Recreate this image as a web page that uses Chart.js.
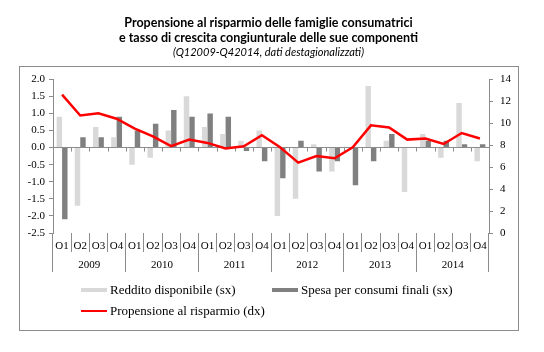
<!DOCTYPE html>
<html>
<head>
<meta charset="utf-8">
<script src="https://cdn.jsdelivr.net/npm/chart.js@4/dist/chart.umd.min.js"></script>
<style>
  html, body { margin: 0; padding: 0; background: #fff; }
  #wrap { position: relative; width: 544px; height: 352px; }
  #frame { position: absolute; left: 19px; top: 66px; width: 500px; height: 265px; border: 1px solid #8c8c8c; box-sizing: border-box; }
  #chart { position: absolute; left: 0; top: 0; }
  .lg { position: absolute; height: 16px; display: flex; align-items: center; font: 13px "Liberation Serif", serif; color: #000; white-space: nowrap; }
  .lg span.sw { display: inline-block; width: 26px; margin-right: 3px; }
</style>
</head>
<body>
<div id="wrap">
  <div id="frame"></div>
  <canvas id="chart" width="544" height="352"></canvas>
  <div id="legend"></div>
</div>
<script>
'use strict';

const quarters = ['Q1', 'Q2', 'Q3', 'Q4', 'Q1', 'Q2', 'Q3', 'Q4', 'Q1', 'Q2', 'Q3', 'Q4',
                  'Q1', 'Q2', 'Q3', 'Q4', 'Q1', 'Q2', 'Q3', 'Q4', 'Q1', 'Q2', 'Q3', 'Q4'];
const years = ['2009', '2010', '2011', '2012', '2013', '2014'];

// variazioni congiunturali % (asse sx)
const reddito = [0.9, -1.7, 0.6, 0.3, -0.5, -0.3, 0.5, 1.5, 0.6, 0.4, 0.2, 0.5,
                 -2.0, -1.5, 0.1, -0.7, 0.0, 1.8, 0.2, -1.3, 0.4, -0.3, 1.3, -0.4];
const spesa = [-2.1, 0.3, 0.3, 0.9, 0.5, 0.7, 1.1, 0.9, 1.0, 0.9, -0.1, -0.4,
               -0.9, 0.2, -0.7, -0.4, -1.1, -0.4, 0.4, 0.0, 0.2, 0.2, 0.1, 0.1];
// propensione al risparmio % (asse dx)
const propensione = [12.6, 10.7, 10.9, 10.4, 9.5, 8.8, 7.9, 8.5, 8.2, 7.7, 7.9, 8.9,
                     7.8, 6.4, 7.0, 6.8, 7.8, 9.8, 9.6, 8.5, 8.6, 8.1, 9.1, 8.6];

const AXIS = '#8c8c8c';
const serif = '"Liberation Serif", "Times New Roman", serif';

// small tick marks on the zero line, at each category boundary
const zeroTicks = {
  id: 'zeroTicks',
  beforeDatasetsDraw(chart) {
    const xs = chart.scales.x;
    const y0 = chart.scales.y.getPixelForValue(0);
    const n = quarters.length;
    const step = xs.width / n;
    const ctx = chart.ctx;
    ctx.save();
    ctx.strokeStyle = AXIS;
    ctx.lineWidth = 1;
    ctx.beginPath();
    for (let i = 0; i <= n; i++) {
      const x = Math.round(xs.left + i * step) + 0.5;
      ctx.moveTo(x, y0);
      ctx.lineTo(x, y0 + 4);
    }
    ctx.stroke();
    ctx.restore();
  }
};

const chart = new Chart(document.getElementById('chart'), {
  data: {
    labels: quarters,
    datasets: [
      {
        type: 'line',
        label: 'Propensione al risparmio (dx)',
        data: propensione,
        yAxisID: 'y1',
        borderColor: '#ff0000',
        backgroundColor: '#ff0000',
        borderWidth: 2.5,
        pointRadius: 0,
        tension: 0,
        order: 0,
      },
      {
        type: 'bar',
        label: 'Reddito disponibile (sx)',
        data: reddito,
        yAxisID: 'y',
        backgroundColor: '#d9d9d9',
        categoryPercentage: 0.6,
        barPercentage: 1.0,
        order: 1,
      },
      {
        type: 'bar',
        label: 'Spesa per consumi finali (sx)',
        data: spesa,
        yAxisID: 'y',
        backgroundColor: '#808080',
        categoryPercentage: 0.6,
        barPercentage: 1.0,
        order: 1,
      },
    ],
  },
  options: {
    responsive: false,
    animation: false,
    devicePixelRatio: 1,
    layout: { padding: { left: 19, right: 26, top: 0, bottom: 79 } },
    plugins: {
      legend: { display: false },
      tooltip: { enabled: false },
      title: {
        display: true,
        text: ['Propensione al risparmio delle famiglie consumatrici',
               'e tasso di crescita congiunturale delle sue componenti'],
        color: '#000',
        font: { family: 'Lato, "Open Sans", sans-serif', size: 12.5, weight: 'bold', lineHeight: 1.2 },
        padding: { top: 15, bottom: 0 },
      },
      subtitle: {
        display: true,
        text: '(Q12009-Q42014, dati destagionalizzati)',
        color: '#000',
        font: { family: 'Lato, "Open Sans", sans-serif', size: 11, style: 'italic', lineHeight: 1.2 },
        padding: { top: 1, bottom: 20 },
      },
    },
    scales: {
      x: {
        type: 'category',
        offset: true,
        border: { display: false },
        grid: { offset: true, drawOnChartArea: false, drawTicks: true, tickLength: 19, color: AXIS },
        ticks: { color: '#000', font: { family: serif, size: 11 }, padding: -12, maxRotation: 0, autoSkip: false },
        afterFit: (s) => { s.height = 16; },
      },
      x2: {
        type: 'category',
        labels: years,
        position: 'bottom',
        offset: true,
        border: { display: false },
        grid: { offset: true, drawOnChartArea: false, drawTicks: true, tickLength: 23, color: AXIS },
        ticks: { color: '#000', font: { family: serif, size: 11 }, padding: -13.5, maxRotation: 0, autoSkip: false },
        afterFit: (s) => { s.height = 24; },
      },
      y: {
        position: 'left',
        min: -2.5,
        max: 2.0,
        border: { color: AXIS },
        grid: {
          drawOnChartArea: true,
          color: (c) => (c.tick && c.tick.value === 0 ? AXIS : 'rgba(0,0,0,0)'),
          tickColor: AXIS,
          tickLength: 4,
        },
        ticks: {
          stepSize: 0.5,
          color: '#000',
          padding: 4,
          font: { family: serif, size: 11 },
          callback: (v) => Number(v).toFixed(1),
        },
        afterFit: (s) => { s.width = 34; },
      },
      y1: {
        position: 'right',
        min: 0,
        max: 14,
        border: { color: AXIS },
        grid: { drawOnChartArea: false, tickColor: AXIS, tickLength: 4 },
        ticks: { stepSize: 2, color: '#000', padding: 7, font: { family: serif, size: 11 } },
        afterFit: (s) => { s.width = 29; },
      },
    },
  },
  plugins: [zeroTicks],
});

// legend built from the datasets, laid out like the original
const legendSpots = {
  'Reddito disponibile (sx)': [81, 282],
  'Spesa per consumi finali (sx)': [272, 282],
  'Propensione al risparmio (dx)': [81, 303],
};
const legendBox = document.getElementById('legend');
chart.data.datasets.forEach((ds) => {
  const pos = legendSpots[ds.label];
  const item = document.createElement('div');
  item.className = 'lg';
  item.style.left = pos[0] + 'px';
  item.style.top = pos[1] + 'px';
  const sw = document.createElement('span');
  sw.className = 'sw';
  if (ds.type === 'line') {
    sw.style.height = '2px';
    sw.style.background = ds.borderColor;
  } else {
    sw.style.height = '4px';
    sw.style.background = ds.backgroundColor;
  }
  item.appendChild(sw);
  item.appendChild(document.createTextNode(ds.label));
  legendBox.appendChild(item);
});
</script>
</body>
</html>
